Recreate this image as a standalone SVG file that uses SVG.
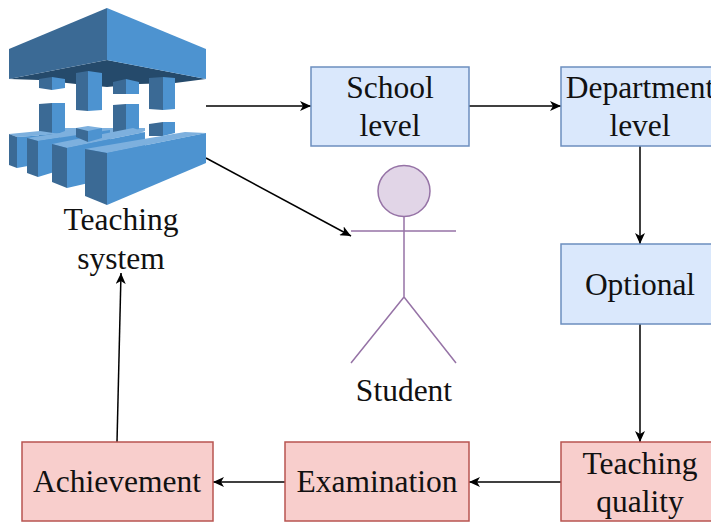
<svg xmlns="http://www.w3.org/2000/svg" width="711" height="522" viewBox="0 0 711 522">
<style>
text{font-family:"Liberation Serif","Times New Roman",serif;font-size:31.500px;fill:#111;text-anchor:middle}
.blue{fill:#dae8fc;stroke:#6c8ebf;stroke-width:1.5}
.red{fill:#f8cecc;stroke:#b85450;stroke-width:1.5}
.c{fill:none;stroke:#000;stroke-width:1.5;marker-end:url(#a)}
.actor{fill:none;stroke:#9673a6;stroke-width:1.5}
.l{fill:#4d93d0}.d{fill:#3b6a95}.k{fill:#254a6b}.h{fill:#7db0de}
</style>
<defs><marker id="a" viewBox="0 0 12 10" refX="11" refY="5" markerWidth="12" markerHeight="10" markerUnits="userSpaceOnUse" orient="auto"><path d="M0 0L11 5L0 10L3 5Z" fill="#000"/></marker></defs>
<g id="connectors">
<path class="c" d="M206 106H311"/>
<path class="c" d="M469 106H561"/>
<path class="c" d="M640 146V244"/>
<path class="c" d="M640 324V442"/>
<path class="c" d="M561 482H469"/>
<path class="c" d="M285 482H213"/>
<path class="c" d="M117 442L121 273"/>
<path class="c" d="M206 158L351 236"/>
</g>
<g id="teaching-system">
<path class="k" d="M9 79L107 60L206 79L175 83L139 84L107 87L76 84L39 80Z"/>
<path class="d" d="M107 8L9 49V79L107 60Z"/>
<path class="l" d="M107 8L206 49V79L107 60Z"/>
<path class="d" d="M39 79L52 77V90L39 88Z"/><path class="l" d="M52 77L65 79V88L52 90Z"/>
<path class="d" d="M76 73L88 71V111L76 110Z"/><path class="l" d="M88 71L102 73V110L88 111Z"/>
<path class="d" d="M113 82L126 79V94L113 94Z"/><path class="l" d="M126 79L139 82V94L126 94Z"/>
<path class="d" d="M149 78L163 77V110L149 109Z"/><path class="l" d="M163 77L175 78V109L163 110Z"/>
<path class="h" d="M39 134L65 128L145 128V131L60 140Z"/>
<path class="d" d="M39 104L52 103V136H39Z"/><path class="l" d="M52 103H65V131L52 136Z"/>
<path class="d" d="M113 105L126 104V134H113Z"/><path class="l" d="M126 104H139V129L126 134Z"/>
<path class="d" d="M149 124L163 122V136H149Z"/><path class="l" d="M163 122H175V133L163 136Z"/>
<path class="h" d="M9 134L17 137L60 134L40 131Z"/>
<path class="l" d="M17 137L60 134V160L17 168Z"/><path class="d" d="M9 134L17 137V168L9 165Z"/>
<path class="h" d="M27 138L38 141L110 130L93 128Z"/>
<path class="l" d="M38 141L110 130V155L38 177Z"/><path class="d" d="M27 138L38 141V177L27 173Z"/>
<path class="h" d="M52 144L67 148L145 132L133 128Z"/>
<path class="l" d="M67 148L145 132V170L67 188Z"/><path class="d" d="M52 144L67 148V188L52 182Z"/>
<path class="h" d="M76 128L88 126L102 128L88 131Z"/>
<path class="d" d="M76 128L88 131V142L76 137Z"/>
<path class="l" d="M88 131L102 128V138L88 142Z"/>
<path class="h" d="M85 149L107 153L206 133L185 132Z"/>
<path class="l" d="M107 153L206 133V163L107 205Z"/>
<path class="d" d="M85 149L107 153V205L85 196Z"/>
<text x="121" y="230">Teaching</text><text x="121" y="269">system</text>
</g>
<g id="school-level"><rect class="blue" x="311" y="67" width="158" height="79"/><text x="390" y="98">School</text><text x="390" y="136">level</text></g>
<g id="department-level"><rect class="blue" x="561" y="67" width="158" height="79"/><text x="640" y="98">Department</text><text x="640" y="136">level</text></g>
<g id="optional"><rect class="blue" x="561" y="244" width="158" height="80"/><text x="640" y="295">Optional</text></g>
<g id="student"><ellipse cx="404" cy="191" rx="26" ry="25.500" fill="#e1d5e7" stroke="#9673a6" stroke-width="1.500"/><path class="actor" d="M404 217V297M351 231H456M404 297L351 363M404 297L456 363"/><text x="404" y="401">Student</text></g>
<g id="teaching-quality"><rect class="red" x="561" y="442" width="158" height="79"/><text x="640" y="474">Teaching</text><text x="640" y="512">quality</text></g>
<g id="examination"><rect class="red" x="285" y="442" width="184" height="79"/><text x="377" y="492">Examination</text></g>
<g id="achievement"><rect class="red" x="22" y="442" width="191" height="79"/><text x="117" y="492">Achievement</text></g>
</svg>
